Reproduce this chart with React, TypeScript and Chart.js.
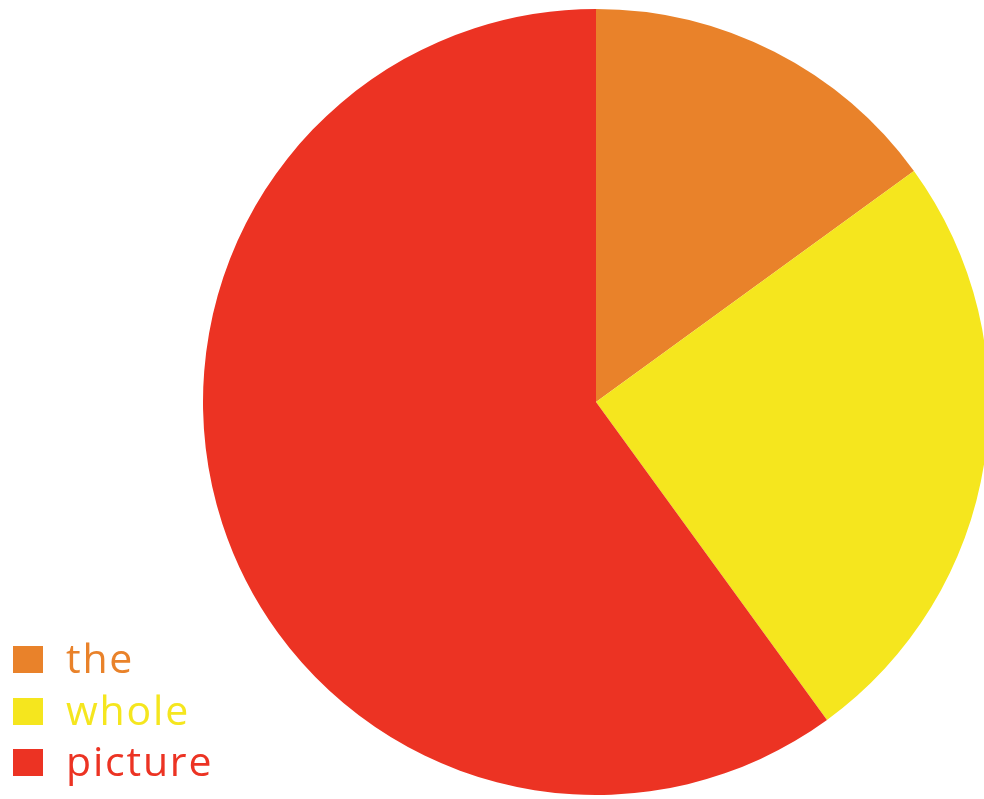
import React, { useEffect, useRef } from "react";
import { Chart, registerables } from "chart.js";

Chart.register(...registerables);

const labels = ["the", "whole", "picture"];
const values = [15, 25, 60];
const colors = ["#E9822A", "#F5E61E", "#EC3323"];

export default function App() {
  const ref = useRef<HTMLCanvasElement | null>(null);

  useEffect(() => {
    if (!ref.current) return;
    const chart = new Chart(ref.current, {
      type: "pie",
      data: {
        labels,
        datasets: [
          {
            data: values,
            backgroundColor: colors,
            borderWidth: 0,
            hoverOffset: 0,
          },
        ],
      },
      options: {
        responsive: false,
        animation: false,
        layout: { padding: { left: 203, top: 9, right: 11, bottom: 4 } },
        plugins: {
          legend: { display: false },
          tooltip: { enabled: false },
        },
      },
    });
    return () => chart.destroy();
  }, []);

  return (
    <div
      style={{
        position: "absolute",
        left: 0,
        top: 0,
        width: 984,
        height: 799,
        overflow: "hidden",
        background: "#fff",
      }}
    >
      <canvas ref={ref} width={1000} height={799} style={{ position: "absolute", left: 0, top: 0 }} />
      <div style={{ position: "absolute", left: 13, top: 632, fontFamily: "'Open Sans', 'Noto Sans', sans-serif", fontWeight: 400 }}>
        {labels.map((l, i) => (
          <div key={l} style={{ display: "flex", alignItems: "center", height: 51.5 }}>
            <span style={{ display: "inline-block", width: 30, height: 27, background: colors[i], marginTop: 4 }} />
            <span style={{ marginLeft: 23, fontSize: 41, letterSpacing: 1.8, color: colors[i], lineHeight: "51px" }}>{l}</span>
          </div>
        ))}
      </div>
    </div>
  );
}
